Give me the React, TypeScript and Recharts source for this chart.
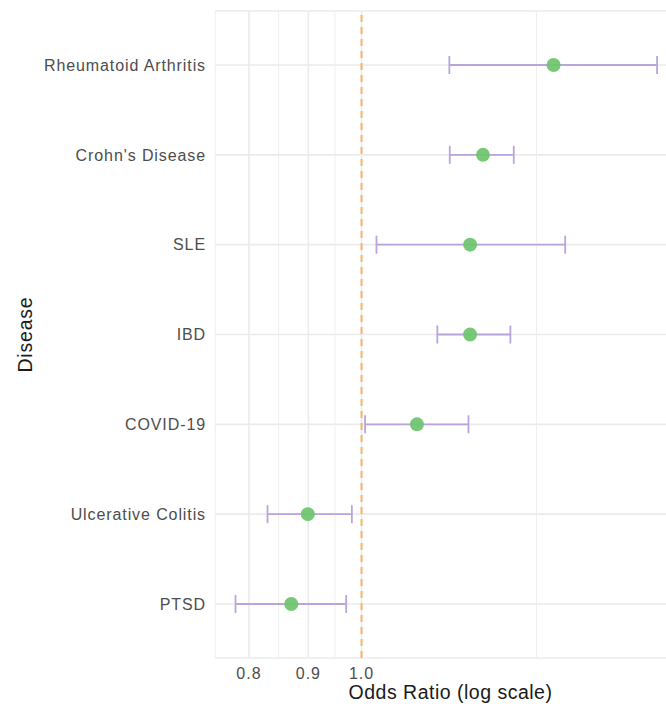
import {
  ComposedChart,
  Scatter,
  ErrorBar,
  XAxis,
  YAxis,
  CartesianGrid,
  ReferenceLine,
} from 'recharts';

const diseases = [
  'Rheumatoid Arthritis',
  "Crohn's Disease",
  'SLE',
  'IBD',
  'COVID-19',
  'Ulcerative Colitis',
  'PTSD',
];
const oddsRatio = [1.463, 1.272, 1.24, 1.24, 1.116, 0.899, 0.87];
const ciLow = [1.19, 1.191, 1.03, 1.162, 1.007, 0.83, 0.779];
const ciHigh = [1.796, 1.352, 1.497, 1.343, 1.236, 0.981, 0.97];

const xTicks = [0.8, 0.9, 1.0];
const majorGrid = [0.8, 0.9, 1.0];
const minorGrid = [0.7483, 0.8485, 0.9487, 1.4142];

const rows = diseases.map((disease, i) => ({
  disease,
  or: oddsRatio[i],
  err: [oddsRatio[i] - ciLow[i], ciHigh[i] - oddsRatio[i]],
}));

const font = '"Liberation Sans", Arial, Helvetica, sans-serif';

const Dot = (p: any) => (
  <circle cx={p.cx} cy={p.cy} r={7} fill="#6dc46b" fillOpacity={0.92} />
);

export default function App() {
  return (
    <div style={{ position: 'absolute', left: 0, top: 0 }}>
      <ComposedChart
        width={666}
        height={711}
        layout="vertical"
        data={rows}
        margin={{ top: 11, right: 0, bottom: 0, left: 0 }}
      >
        <CartesianGrid horizontal vertical={false} stroke="#ebebeb" strokeWidth={1.6} />
        {minorGrid.map((v) => (
          <ReferenceLine key={'mi' + v} x={v} stroke="#ededed" strokeWidth={0.9} />
        ))}
        {majorGrid.map((v) => (
          <ReferenceLine key={'ma' + v} x={v} stroke="#ebebeb" strokeWidth={1.6} />
        ))}
        <XAxis
          type="number"
          dataKey="or"
          scale="log"
          domain={[0.748, 1.828]}
          allowDataOverflow
          ticks={xTicks}
          tickFormatter={(v: number) => v.toFixed(1)}
          axisLine={false}
          tickLine={false}
          tickSize={6}
          tickMargin={4}
          height={53}
          tick={{ fill: '#4d4d4d', fontSize: 16, fontFamily: font, letterSpacing: 1 }}
          label={{
            content: (props: any) => {
              const vb = props.viewBox;
              return (
                <text
                  x={vb.x + vb.width / 2 + 10}
                  y={vb.y + vb.height - 12}
                  textAnchor="middle"
                  fill="#1a1a1a"
                  fontSize={19.5}
                  fontFamily={font}
                  letterSpacing={0.5}
                >
                  Odds Ratio (log scale)
                </text>
              );
            },
          }}
        />
        <YAxis
          type="category"
          dataKey="disease"
          width={215}
          axisLine={false}
          tickLine={false}
          tickSize={6}
          tickMargin={3}
          padding={{ top: 54, bottom: 54 }}
          interval={0}
          tick={{ fill: '#4d4d4d', fontSize: 16, fontFamily: font, letterSpacing: 0.9 }}
          label={{
            content: (props: any) => {
              const vb = props.viewBox;
              const cy = vb.y + vb.height / 2;
              return (
                <text
                  x={32}
                  y={cy}
                  transform={`rotate(-90, 32, ${cy})`}
                  textAnchor="middle"
                  fill="#1a1a1a"
                  fontSize={19.5}
                  fontFamily={font}
                  letterSpacing={0.8}
                >
                  Disease
                </text>
              );
            },
          }}
        />
        <ReferenceLine x={1} stroke="#fdb163" strokeDasharray="7 5" strokeWidth={2} />
        <Scatter dataKey="or" shape={Dot} isAnimationActive={false}>
          <ErrorBar
            dataKey="err"
            direction="x"
            width={9}
            stroke="#b9a5dc"
            strokeWidth={1.8}
            isAnimationActive={false}
          />
        </Scatter>
      </ComposedChart>
    </div>
  );
}
